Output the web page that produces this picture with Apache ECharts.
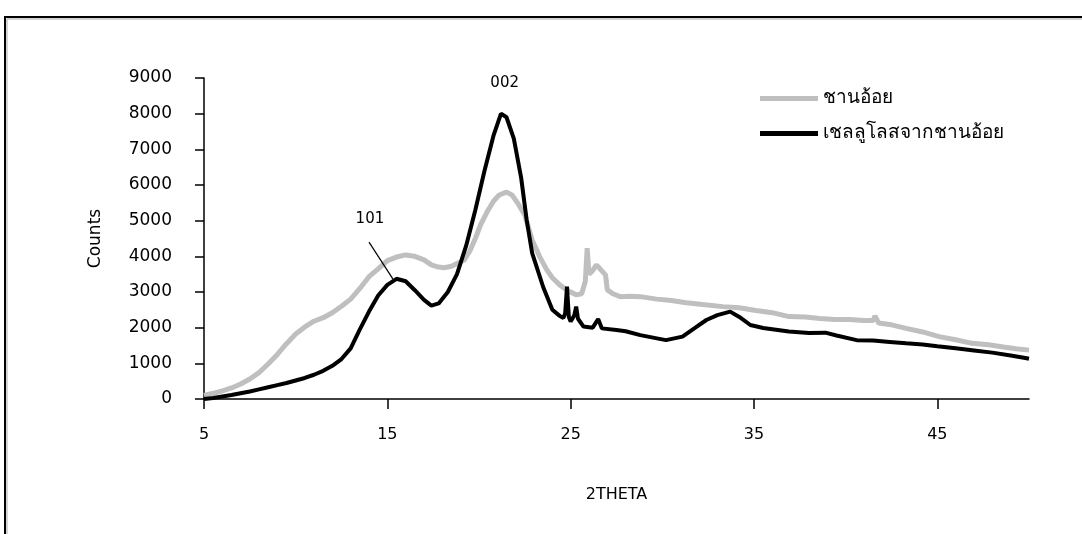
<!DOCTYPE html>
<html>
<head>
<meta charset="utf-8">
<script src="https://cdn.jsdelivr.net/npm/echarts@6/dist/echarts.min.js"></script>
<style>
  html, body { margin: 0; padding: 0; background: #fff; }
  #charts { width: 1082px; height: 534px; }
</style>
</head>
<body>
<div id="charts"></div>
<script>
// 2theta / counts
var seriesNames = ['ชานอ้อย', 'เชลลูโลสจากชานอ้อย'];
var xTicks = [5, 15, 25, 35, 45];

var bagasseX = [5, 5.5, 6, 6.5, 7, 7.5, 8, 8.5, 9, 9.5, 10, 10.5, 11, 11.5, 12, 12.5, 13, 13.5, 14, 14.5, 15, 15.5, 16, 16.5, 17, 17.4, 17.7, 18.1, 18.5, 18.8, 19.2, 19.5, 19.8, 20.1, 20.5, 20.8, 21.1, 21.5, 21.8, 22.1, 22.5, 22.9, 23.3, 23.7, 24.0, 24.4, 24.8, 25.3, 25.6, 25.8, 25.9, 26.0, 26.2, 26.4, 26.6, 26.9, 27.0, 27.3, 27.7, 28.2, 28.8, 29.7, 30.5, 31.3, 32.2, 33.3, 34.2, 35.1, 36.0, 36.9, 37.8, 38.6, 39.4, 40.2, 41.0, 41.5, 41.6, 41.8, 42.5, 43.3, 44.2, 45.1, 46.0, 46.9, 47.8, 48.6, 49.3, 50];
var bagasseY = [100, 160, 230, 310, 420, 560, 740, 980, 1250, 1550, 1820, 2020, 2180, 2280, 2420, 2600, 2800, 3100, 3430, 3650, 3880, 3980, 4040, 4000, 3900, 3760, 3710, 3680, 3720, 3800, 3900, 4150, 4500, 4900, 5300, 5550, 5720, 5800, 5720, 5500, 5150, 4460, 4000, 3620, 3400, 3200, 3050, 2920, 2950, 3300, 4230, 3500, 3600, 3760, 3650, 3480, 3060, 2950, 2870, 2880, 2870, 2800, 2760, 2700, 2650, 2590, 2560, 2480, 2420, 2310, 2300, 2260, 2230, 2230, 2200, 2200, 2330, 2130, 2080, 1980, 1880, 1750, 1660, 1560, 1520, 1460, 1410, 1370];

var celluloseX = [5, 5.5, 6, 6.5, 7, 7.5, 8, 8.5, 9, 9.5, 10, 10.5, 11, 11.5, 12, 12.5, 13, 13.5, 14, 14.5, 15, 15.5, 16, 16.5, 17, 17.4, 17.8, 18.3, 18.8, 19.3, 19.8, 20.3, 20.8, 21.2, 21.5, 21.9, 22.3, 22.6, 22.9, 23.5, 24.0, 24.4, 24.6, 24.7, 24.8, 24.9, 25.0, 25.2, 25.3, 25.4, 25.7, 26.2, 26.5, 26.7, 27.5, 28.0, 28.8, 29.7, 30.2, 31.1, 31.8, 32.4, 33.0, 33.7, 34.2, 34.8, 35.5, 36.2, 36.9, 38.0, 38.9, 39.5, 40.6, 41.5, 42.4, 43.3, 44.2, 45.0, 46.0, 47.0, 48.0, 49.0, 49.8, 50];
var celluloseY = [0, 30, 70, 110, 160, 210, 270, 330, 390, 450, 520, 590, 680, 790, 930, 1120, 1420, 1950, 2450, 2900, 3200, 3370, 3300, 3050, 2780, 2620, 2680, 3000, 3500, 4300, 5300, 6400, 7400, 8000, 7900, 7300, 6200, 5020, 4090, 3140, 2500, 2330, 2270, 2400, 3150, 2300, 2170, 2350, 2590, 2250, 2030, 2000, 2240, 1980, 1935, 1900, 1790, 1700, 1650, 1750, 2000, 2215, 2350, 2450, 2300, 2075, 1990, 1940, 1890, 1850, 1860, 1780, 1650, 1640, 1600, 1560, 1530, 1480, 1420, 1360, 1300, 1220, 1150, 1130];

function pairs(xs, ys) {
  var out = [];
  for (var i = 0; i < xs.length; i++) out.push([xs[i], ys[i]]);
  return out;
}

var font = 'DejaVu Sans, Noto Sans, sans-serif';
var chart = echarts.init(document.getElementById('charts'));
var option = {
  backgroundColor: '#fff',
  animation: false,
  grid: { left: 204, right: 53, top: 78, bottom: 135 },
  graphic: [
    { type: 'rect', shape: { x: 5, y: 17, width: 1200, height: 700 }, style: { fill: 'none', stroke: '#000', lineWidth: 2 } },
    { type: 'rect', shape: { x: 7, y: 19, width: 1200, height: 700 }, style: { fill: 'none', stroke: '#aaa', lineWidth: 1 } }
  ],
  legend: {
    orient: 'vertical',
    left: 755,
    top: 84,
    itemWidth: 58,
    itemHeight: 5,
    itemGap: 16,
    icon: 'rect',
    data: seriesNames,
    textStyle: { fontFamily: font, fontSize: 19, color: '#000' }
  },
  xAxis: {
    type: 'value',
    min: 5,
    max: 50,
    name: '2THETA',
    nameLocation: 'middle',
    nameGap: 88,
    nameTextStyle: { fontFamily: font, fontSize: 16, color: '#000' },
    axisLine: { lineStyle: { color: '#000', width: 1.5 } },
    axisTick: { show: true, length: 10, customValues: xTicks, lineStyle: { color: '#000', width: 1.5 } },
    axisLabel: { customValues: xTicks, margin: 28, fontFamily: font, fontSize: 16, color: '#000' },
    splitLine: { show: false }
  },
  yAxis: {
    type: 'value',
    min: 0,
    max: 9000,
    interval: 1000,
    name: 'Counts',
    nameLocation: 'middle',
    nameGap: 100,
    nameTextStyle: { fontFamily: font, fontSize: 17, color: '#000' },
    axisLine: { show: true, lineStyle: { color: '#000', width: 1.5 } },
    axisTick: { show: true, length: 9, lineStyle: { color: '#000', width: 1.5 } },
    axisLabel: {
      margin: 32, fontFamily: font, fontSize: 17, color: '#000',
      formatter: function (v) { return String(v); }
    },
    splitLine: { show: false }
  },
  series: [
    {
      name: seriesNames[0],
      type: 'line',
      data: pairs(bagasseX, bagasseY),
      symbol: 'none',
      sampling: 'none',
      color: '#bfbfbf',
      lineStyle: { color: '#bfbfbf', width: 5 },
      z: 2
    },
    {
      name: seriesNames[1],
      type: 'line',
      data: pairs(celluloseX, celluloseY),
      symbol: 'none',
      sampling: 'none',
      color: '#000',
      lineStyle: { color: '#000', width: 4 },
      z: 3,
      markLine: {
        silent: true,
        symbol: 'none',
        label: { show: false },
        lineStyle: { color: '#000', width: 1.2, type: 'solid' },
        data: [[{ coord: [14.0, 4400] }, { coord: [15.3, 3370] }]]
      },
      markPoint: {
        symbol: 'rect',
        symbolSize: 1,
        itemStyle: { color: 'rgba(0,0,0,0)' },
        label: { show: true, position: 'inside', color: '#000', fontFamily: font, fontSize: 15, formatter: '{b}' },
        data: [
          { name: '101', coord: [14.05, 5050] },
          { name: '002', coord: [21.4, 8860] }
        ]
      }
    }
  ]
};
chart.setOption(option);
</script>
</body>
</html>
